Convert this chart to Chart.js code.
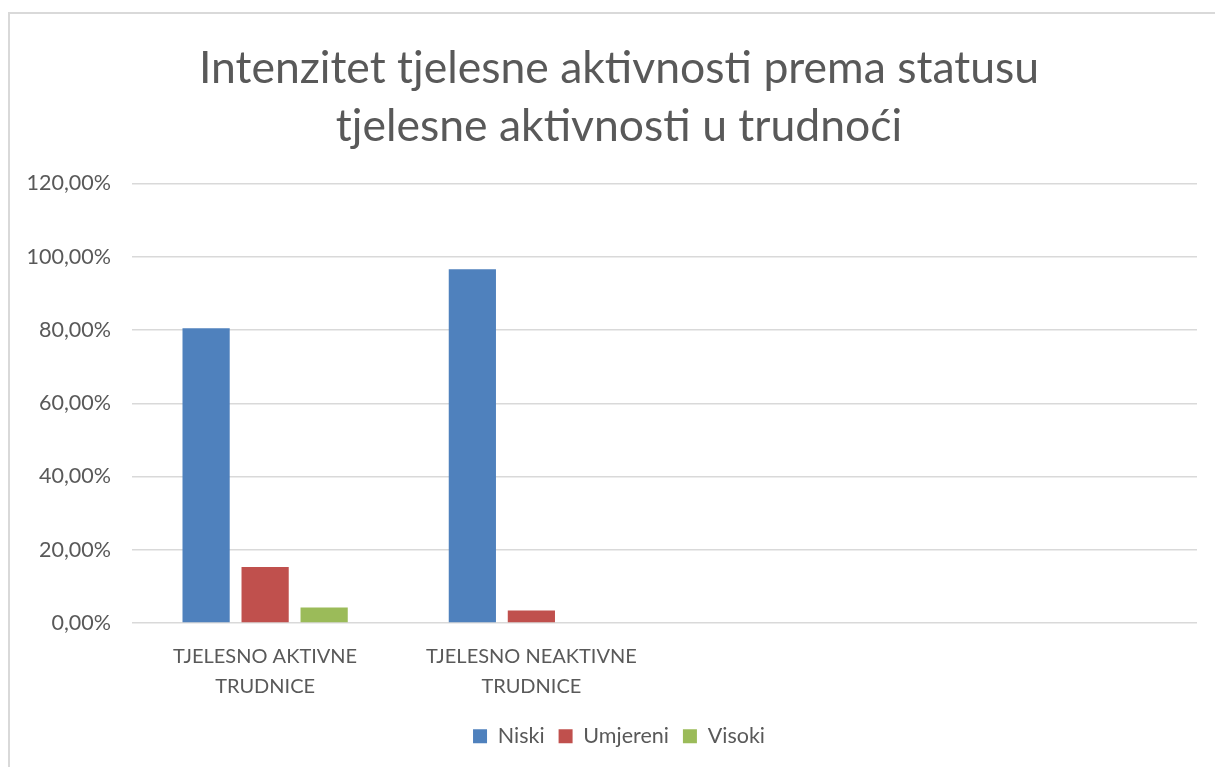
<!DOCTYPE html>
<html>
<head>
<meta charset="utf-8">
<script src="https://cdn.jsdelivr.net/npm/chart.js@4.4.0/dist/chart.umd.min.js"></script>
<style>
  html, body { margin: 0; padding: 0; background: #fff; overflow: hidden; width: 1215px; height: 767px; }
  #okvir { position: absolute; left: 8px; top: 12px; width: 1230px; height: 770px;
           border-left: 2px solid #d9d9d9; border-top: 2px solid #d9d9d9; }
  #graf { position: absolute; left: 10px; top: 14px; }
</style>
</head>
<body>
<div id="okvir"></div>
<canvas id="graf" width="1218" height="753"></canvas>
<script>
// Podaci očitani sa slike (postoci)
const kategorije = [['TJELESNO AKTIVNE', 'TRUDNICE'], ['TJELESNO NEAKTIVNE', 'TRUDNICE'], '', '']
const niski = [80.5, 96.6, null, null]
const umjereni = [15.3, 3.4, null, null]
const visoki = [4.2, 0, null, null]
const yOznake = [0, 20, 40, 60, 80, 100, 120]

const sivaSlova = '#595959'
const font = 'Lato, "Open Sans", sans-serif'

const canvas = document.querySelector('#graf')
const ctx = canvas.getContext('2d')

const chart = new Chart(ctx, {
  type: 'bar',
  data: {
    labels: kategorije,
    datasets: [
      { label: 'Niski', data: niski, backgroundColor: '#4f81bd' },
      { label: 'Umjereni', data: umjereni, backgroundColor: '#c0504d' },
      { label: 'Visoki', data: visoki, backgroundColor: '#9bbb59' }
    ]
  },
  options: {
    responsive: false,
    animation: false,
    categoryPercentage: 0.665,
    barPercentage: 0.8,
    layout: { padding: { left: 31, right: 31, top: 0, bottom: 10 } },
    plugins: {
      tooltip: { enabled: false },
      title: {
        display: true,
        text: ['Intenzitet tjelesne aktivnosti prema statusu', 'tjelesne aktivnosti u trudnoći'],
        color: sivaSlova,
        font: { family: font, size: 44.5, weight: 'normal', lineHeight: 1.3 },
        padding: { top: 26, bottom: 27.8 }
      },
      legend: {
        position: 'bottom',
        labels: {
          color: sivaSlova,
          font: { family: font, size: 21.5 },
          boxWidth: 14,
          boxHeight: 14,
          padding: 14
        }
      }
    },
    scales: {
      x: {
        grid: { display: false },
        border: { display: false },
        ticks: {
          color: sivaSlova,
          font: { family: font, size: 20, lineHeight: 1.5 },
          maxRotation: 0,
          autoSkip: false,
          padding: 10.5
        },
        afterFit: (s) => { s.height = 88.5 }
      },
      y: {
        min: 0,
        max: 120,
        afterBuildTicks: (s) => { s.ticks = yOznake.map(v => ({ value: v })) },
        grid: { color: '#d9d9d9', lineWidth: 1.5, drawTicks: false },
        border: { display: false },
        ticks: {
          color: sivaSlova,
          font: { family: font, size: 21.5 },
          padding: 21,
          callback: (v) => v.toFixed(2).replace('.', ',') + '%'
        },
        afterFit: (s) => {
          s.width = 91
          s._computeLabelArea = () => undefined // oznake smiju izaći lijevo od osi
        }
      }
    }
  }
})
</script>
</body>
</html>
